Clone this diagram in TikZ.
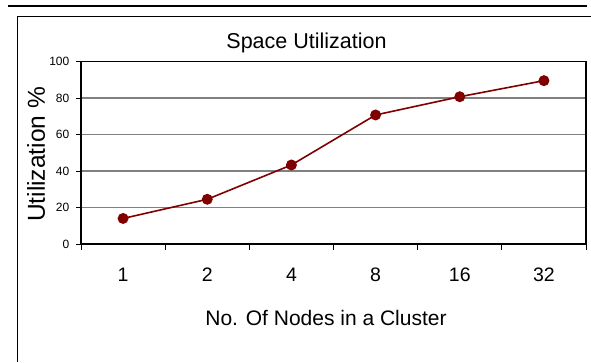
\documentclass[tikz,border=0pt]{standalone}
\usepackage{fontspec}
\setmainfont{Liberation Sans}
\definecolor{seriesred}{RGB}{128,0,0}
\definecolor{gridgray}{RGB}{128,128,128}
\begin{document}
\begin{tikzpicture}[x=1pt,y=-1pt,
  frameline/.style={line width=1pt, black},
  gridline/.style={line width=1.1pt, gridgray},
  axisline/.style={line width=2pt, black},
  tickline/.style={line width=1pt, black},
  marker/.style={circle, fill=seriesred, inner sep=0pt, minimum size=11pt},
  series/.style={draw=seriesred, line width=1.6pt},
  ylab/.style={anchor=east, inner sep=0pt, font=\fontsize{12}{12}\selectfont},
  xlab/.style={inner sep=0pt, font=\fontsize{19.5}{20}\selectfont}]
\useasboundingbox (0,0) rectangle (591,362);

% page rule and chart frame
\draw[line width=2pt] (8,5.5) -- (587,5.5);
\draw[frameline] (17,362) -- (17,16) -- (591,16);

% horizontal grid lines
\foreach \v in {20,40,60,80}
  \draw[gridline] (81,{244-\v*1.825}) -- (586,{244-\v*1.825});

% plot area border and axes
\draw[line width=1.3pt] (81,61.5) rectangle (586,244);
\draw[axisline] (81,61.5) -- (81,244) -- (586,244);

% value axis ticks and labels
\foreach \v in {0,20,...,100} {
  \draw[tickline] (76,{244-\v*1.825}) -- (81,{244-\v*1.825});
  \node[ylab] (y\v) at (69.5,{244-\v*1.825}) {\v};
}

% category axis ticks and labels
\foreach \i in {0,...,6}
  \draw[tickline] ({81+\i*84.17},244) -- ({81+\i*84.17},249.5);
\foreach \lab [count=\i] in {1,2,4,8,16,32}
  \node[xlab] (c\i) at ({81+(\i-0.5)*84.17},274.7) {\lab};

% titles
\node[inner sep=0pt, font=\fontsize{21.5}{22}\selectfont] (title) at (306.5,42.8) {Space Utilization};
\node[inner sep=0pt, rotate=90, font=\fontsize{24.5}{25}\selectfont] (ytitle) at (36,154.5) {Utilization \%};
\node[inner sep=0pt, font=\fontsize{21}{22}\selectfont] (xtitle) at (326,317.5) {No. Of Nodes in a Cluster};

% data series
\foreach \v [count=\i] in {14,24.5,43.3,70.7,80.7,89.5}
  \coordinate (d\i) at ({81+(\i-0.5)*84.17},{244-\v*1.825});
\draw[series] (d1) -- (d2) -- (d3) -- (d4) -- (d5) -- (d6);
\foreach \i in {1,...,6}
  \node[marker] (p\i) at (d\i) {};
\end{tikzpicture}
\end{document}
